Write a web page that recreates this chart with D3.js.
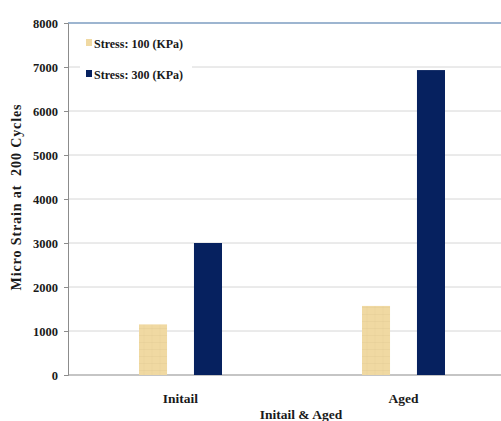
<!DOCTYPE html>
<html>
<head>
<meta charset="utf-8">
<script src="https://cdn.jsdelivr.net/npm/d3@7"></script>
<style>
  html, body { margin: 0; padding: 0; background: #fff; }
  svg { display: block; }
  text { font-family: "Liberation Serif", "Times New Roman", serif; font-weight: bold; fill: #1a1a1a; }
</style>
</head>
<body>
<svg id="chart" width="501" height="421"></svg>
<script>
// Chart data
const categories = ["Initail", "Aged"];
const seriesNames = ["Stress: 100 (KPa)", "Stress: 300 (KPa)"];
const stress100 = [1150, 1570];
const stress300 = [3000, 6930];
const yTicks = [0, 1000, 2000, 3000, 4000, 5000, 6000, 7000, 8000];

const colors = ["#F0D9A2", "#06215F"];

const svg = d3.select("#chart");
const margin = { left: 68, top: 23, right: -13, bottom: 46 };
const W = 501, H = 421;
const plotBottom = H - margin.bottom;

const x = d3.scaleBand().domain(categories).range([margin.left, W - margin.right]);
const y = d3.scaleLinear().domain([0, 8000]).range([plotBottom, margin.top]);

// Faint paper-like texture for the light bars
const defs = svg.append("defs");
const pat = defs.append("pattern")
  .attr("id", "paper").attr("patternUnits", "userSpaceOnUse")
  .attr("width", 8).attr("height", 7);
pat.append("rect").attr("width", 8).attr("height", 7).attr("fill", colors[0]);
pat.append("line").attr("x1", 0).attr("x2", 8).attr("y1", 6.5).attr("y2", 6.5)
  .attr("stroke", "#D8BF88").attr("stroke-width", 0.5).attr("opacity", 0.45);
pat.append("line").attr("x1", 4).attr("x2", 4).attr("y1", 0).attr("y2", 7)
  .attr("stroke", "#DCC48E").attr("stroke-width", 0.5).attr("opacity", 0.4);

// Gridlines
svg.append("g").selectAll("line")
  .data(yTicks.filter(t => t > 0 && t < 8000))
  .join("line")
  .attr("x1", margin.left).attr("x2", W)
  .attr("y1", d => y(d)).attr("y2", d => y(d))
  .attr("stroke", "#D6D6D6").attr("stroke-width", 1);

// Top border line
svg.append("line")
  .attr("x1", margin.left).attr("x2", W)
  .attr("y1", y(8000)).attr("y2", y(8000))
  .attr("stroke", "#7D9CC0").attr("stroke-width", 1.5);

// Y axis
const yAxis = d3.axisLeft(y).tickValues(yTicks).tickSize(4).tickPadding(6).tickFormat(d3.format("d"));
const gy = svg.append("g").attr("transform", `translate(${margin.left},0)`).call(yAxis);
gy.select(".domain").attr("stroke", "#8C8C8C");
gy.selectAll(".tick line").attr("stroke", "#8C8C8C");
gy.selectAll(".tick text").attr("font-size", 12.5).attr("font-family", "Liberation Serif, serif")
  .attr("font-weight", "bold").attr("fill", "#1a1a1a");

// Baseline
svg.append("line")
  .attr("x1", margin.left).attr("x2", W)
  .attr("y1", y(0)).attr("y2", y(0))
  .attr("stroke", "#8C8C8C").attr("stroke-width", 1.2);

// Bars: two series side by side within each category band
const inner = d3.scaleBand().domain([0, 1]).range([71, 154]).paddingInner(0.49);
const groups = svg.append("g").selectAll("g")
  .data(categories)
  .join("g")
  .attr("transform", d => `translate(${x(d)},0)`);

groups.selectAll("rect")
  .data((d, i) => [stress100[i], stress300[i]])
  .join("rect")
  .attr("x", (d, j) => inner(j))
  .attr("width", inner.bandwidth())
  .attr("y", d => y(d))
  .attr("height", d => y(0) - y(d))
  .attr("fill", (d, j) => j === 0 ? "url(#paper)" : colors[1]);

// Category labels
svg.append("g").selectAll("text")
  .data(categories)
  .join("text")
  .attr("x", d => x(d) + x.bandwidth() / 2 + 1)
  .attr("y", 403)
  .attr("text-anchor", "middle")
  .attr("font-size", 13.5)
  .text(d => d);

// X axis title
svg.append("text")
  .attr("x", 301).attr("y", 419)
  .attr("text-anchor", "middle")
  .attr("font-size", 13.5)
  .text("Initail & Aged");

// Y axis title
svg.append("text")
  .attr("transform", `translate(21,197) rotate(-90)`)
  .attr("text-anchor", "middle")
  .attr("font-size", 14)
  .attr("letter-spacing", 0.9)
  .style("white-space", "pre")
  .text("Micro Strain at  200 Cycles");

// Legend
const legend = svg.append("g");
legend.append("rect").attr("x", 80).attr("y", 30).attr("width", 112).attr("height", 54).attr("fill", "#fff");
seriesNames.forEach((name, i) => {
  const ly = 43 + i * 31;
  legend.append("rect")
    .attr("x", 86).attr("y", ly - 4).attr("width", 6).attr("height", 7)
    .attr("fill", colors[i]);
  legend.append("text")
    .attr("x", 94).attr("y", ly + 4.5)
    .attr("font-size", 12)
    .text(name);
});
</script>
</body>
</html>
